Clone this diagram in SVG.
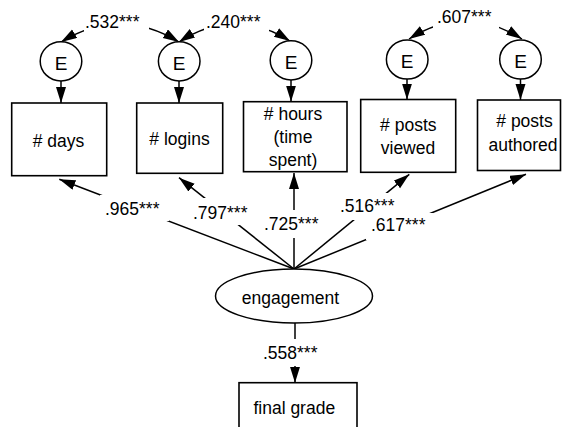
<svg xmlns="http://www.w3.org/2000/svg" width="563" height="427" viewBox="0 0 563 427">
  <defs>
    <marker id="arrow" markerUnits="userSpaceOnUse" markerWidth="17" markerHeight="11" refX="16" refY="5" orient="auto-start-reverse">
      <path d="M0,0 L16,5 L0,10 z" fill="#000"/>
    </marker>
    <style>
      .box { fill: #fff; stroke: #000; stroke-width: 1.6; }
      .err { fill: #fff; stroke: #000; stroke-width: 1.5; }
      .lbl { font-family: "Liberation Sans", Arial, sans-serif; font-size: 17.5px; fill: #000; }
      .big { font-size: 19px; }
      .mid { text-anchor: middle; }
      .edge { fill: none; stroke: #000; stroke-width: 1.5; marker-end: url(#arrow); }
      .cov { fill: none; stroke: #000; stroke-width: 1.3; marker-start: url(#arrow); marker-end: url(#arrow); }
      .bg { fill: #fff; stroke: none; }
    </style>
  </defs>
  <rect width="563" height="427" fill="#fff"/>

  <!-- connectors: loadings, residual paths, covariances, outcome path -->
  <g id="connectors">
    <!-- residual errors to indicators -->
    <line class="edge" x1="61" y1="81" x2="61" y2="103"/>
    <line class="edge" x1="179" y1="81" x2="179" y2="103"/>
    <line class="edge" x1="291" y1="80" x2="291" y2="101.5"/>
    <line class="edge" x1="407" y1="79" x2="407" y2="99.5"/>
    <line class="edge" x1="520.5" y1="79" x2="520.5" y2="100"/>

    <!-- error covariances -->
    <path class="cov" d="M61,42 Q120,6 179,42"/>
    <path class="cov" d="M179,42 Q234.5,6 290,41"/>
    <path class="cov" d="M409,39 Q465.5,3 522,39"/>

    <!-- factor loadings from engagement -->
    <line class="edge" x1="294" y1="269" x2="59.3" y2="179.3"/>
    <line class="edge" x1="294" y1="269" x2="179" y2="177.7"/>
    <line class="edge" x1="294" y1="269" x2="294" y2="173"/>
    <line class="edge" x1="294" y1="269" x2="409.3" y2="174.3"/>
    <line class="edge" x1="294" y1="269" x2="526" y2="174.3"/>

    <!-- engagement to final grade -->
    <line class="edge" x1="295" y1="323" x2="295" y2="382.7"/>

    <!-- coefficient labels -->
    <g id="coef-labels">
      <rect class="bg" x="84" y="5" width="65" height="28"/>
      <text class="lbl" x="85" y="28">.532***</text>
      <rect class="bg" x="204" y="5" width="65" height="28"/>
      <text class="lbl" x="206" y="28">.240***</text>
      <rect class="bg" x="433" y="2" width="66" height="28"/>
      <text class="lbl" x="437" y="23">.607***</text>

      <rect class="bg" x="100" y="195" width="69" height="26"/>
      <text class="lbl" x="105" y="215">.965***</text>
      <rect class="bg" x="190" y="198" width="60" height="27"/>
      <text class="lbl" x="193" y="219">.797***</text>
      <rect class="bg" x="262" y="210" width="60" height="28"/>
      <text class="lbl" x="264" y="230">.725***</text>
      <rect class="bg" x="337" y="193" width="60" height="27"/>
      <text class="lbl" x="340" y="212">.516***</text>
      <rect class="bg" x="366" y="213" width="67" height="27"/>
      <text class="lbl" x="371" y="231">.617***</text>

      <rect class="bg" x="261" y="339" width="62" height="27"/>
      <text class="lbl" x="263" y="359">.558***</text>
    </g>
  </g>

  <!-- residual error terms -->
  <g id="e-days"><ellipse class="err" cx="61" cy="61.3" rx="20.8" ry="19.6"/><text class="lbl big mid" x="61" y="69.5">E</text></g>
  <g id="e-logins"><ellipse class="err" cx="179.2" cy="61.3" rx="20.8" ry="19.6"/><text class="lbl big mid" x="179.2" y="69.5">E</text></g>
  <g id="e-hours"><ellipse class="err" cx="291" cy="60.3" rx="20.8" ry="19.6"/><text class="lbl big mid" x="291" y="68.5">E</text></g>
  <g id="e-viewed"><ellipse class="err" cx="407.2" cy="59.5" rx="20.8" ry="19.6"/><text class="lbl big mid" x="407.2" y="67.5">E</text></g>
  <g id="e-authored"><ellipse class="err" cx="520.5" cy="59.5" rx="20.8" ry="19.6"/><text class="lbl big mid" x="520.5" y="67.5">E</text></g>

  <!-- observed indicators -->
  <g id="days">
    <rect class="box" x="11.7" y="103" width="95" height="72.7"/>
    <text class="lbl mid" x="58.5" y="147"># days</text>
  </g>
  <g id="logins">
    <rect class="box" x="136.7" y="103" width="86" height="70.3"/>
    <text class="lbl mid" x="179.5" y="145"># logins</text>
  </g>
  <g id="hours">
    <rect class="box" x="243.5" y="101.7" width="103.5" height="70"/>
    <text class="lbl mid" x="293" y="120"># hours</text>
    <text class="lbl mid" x="293" y="143">(time</text>
    <text class="lbl mid" x="293" y="166">spent)</text>
  </g>
  <g id="viewed">
    <rect class="box" x="360.7" y="99.5" width="95" height="72.8"/>
    <text class="lbl mid" x="408.3" y="131"># posts</text>
    <text class="lbl mid" x="408" y="154">viewed</text>
  </g>
  <g id="authored">
    <rect class="box" x="477.5" y="100" width="83" height="70.5"/>
    <text class="lbl mid" x="524.5" y="127"># posts</text>
    <text class="lbl mid" x="523" y="150.5">authored</text>
  </g>

  <!-- latent factor -->
  <g id="engagement">
    <ellipse class="err" cx="294" cy="296" rx="78.5" ry="27"/>
    <text class="lbl mid" x="290.5" y="304.3">engagement</text>
  </g>

  <!-- outcome -->
  <g id="final-grade">
    <rect class="box" x="239" y="382.7" width="118" height="50"/>
    <text class="lbl mid" x="294.3" y="414.3">final grade</text>
  </g>
</svg>
